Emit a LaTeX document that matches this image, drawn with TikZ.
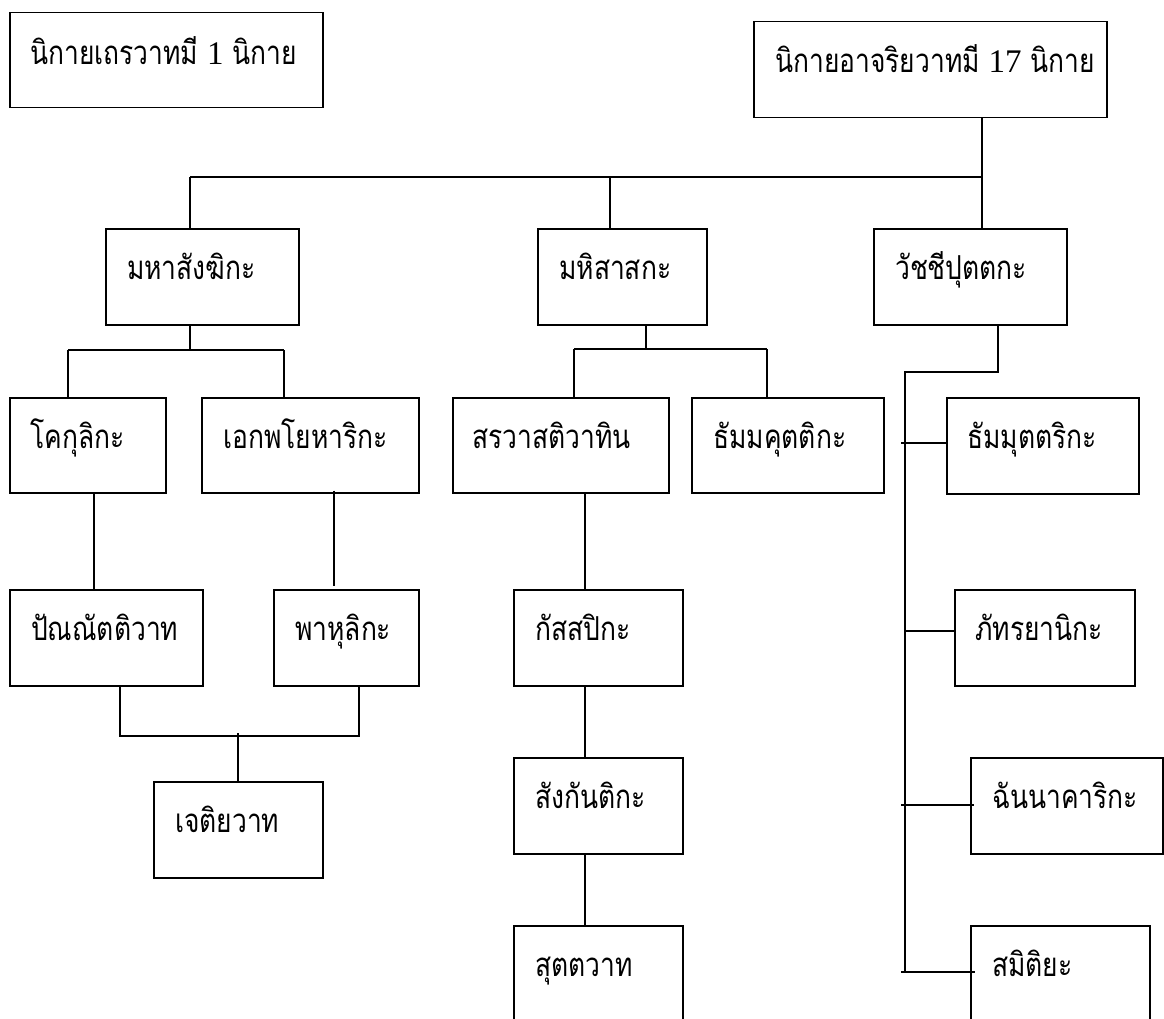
\documentclass[tikz,border=0pt]{standalone}
\usepackage{fontspec}
\newfontfamily\thaifont[Script=Thai,FakeStretch=0.8]{Loma}
\newfontfamily\numfont{Liberation Serif}
\tikzset{
  x=1pt, y=-1pt,
  box/.style={draw, line width=1.5pt, anchor=north west, inner sep=0pt},
  lbl/.style={anchor=base west, inner sep=0pt, font=\thaifont\fontsize{33}{33}\selectfont},
  conn/.style={line width=1.4pt}
}
\begin{document}
\begin{tikzpicture}
\useasboundingbox (0,0) rectangle (1164,1019);
\fill[white] (0,0) rectangle (1164,1019);
\begin{scope}
\clip (0,0) rectangle (1164,1019);
% boxes
\node[box, minimum width=313pt, minimum height=95pt] (thera) at (9,12) {};
\node[box, minimum width=353pt, minimum height=96pt] (acariya) at (753,21) {};
\node[box, minimum width=193pt, minimum height=96pt] (mahasang) at (105,228) {};
\node[box, minimum width=169pt, minimum height=96pt] (mahisa) at (537,228) {};
\node[box, minimum width=193pt, minimum height=96pt] (watchi) at (873,228) {};
\node[box, minimum width=156pt, minimum height=95pt] (kokul) at (9,397) {};
\node[box, minimum width=217pt, minimum height=95pt] (ekab) at (201,397) {};
\node[box, minimum width=216pt, minimum height=95pt] (sarva) at (452,397) {};
\node[box, minimum width=192pt, minimum height=95pt] (dhammag) at (691,397) {};
\node[box, minimum width=192pt, minimum height=96pt] (dhammut) at (946,397) {};
\node[box, minimum width=193pt, minimum height=96pt] (pannat) at (9,589) {};
\node[box, minimum width=145pt, minimum height=96pt] (bahul) at (273,589) {};
\node[box, minimum width=169pt, minimum height=96pt] (kassa) at (513,589) {};
\node[box, minimum width=180pt, minimum height=96pt] (bhadra) at (954,589) {};
\node[box, minimum width=169pt, minimum height=96pt] (sankan) at (513,757) {};
\node[box, minimum width=192pt, minimum height=96pt] (channa) at (970,757) {};
\node[box, minimum width=169pt, minimum height=96pt] (cetiya) at (153,781) {};
\node[box, minimum width=169pt, minimum height=110pt] (sutta) at (513,925) {};
\node[box, minimum width=179pt, minimum height=110pt] (sammit) at (970,925) {};
% labels
\path (thera.north west) ++(21,53) node[lbl] {นิกายเถรวาทมี {\numfont 1} นิกาย};
\path (acariya.north west) ++(22,52) node[lbl] {นิกายอาจริยวาทมี {\numfont 17} นิกาย};
\path (mahasang.north west) ++(22,51) node[lbl] {มหาสังฆิกะ};
\path (mahisa.north west) ++(22,51) node[lbl] {มหิสาสกะ};
\path (watchi.north west) ++(22,51) node[lbl] {วัชชีปุตตกะ};
\path (kokul.north west) ++(21,51) node[lbl] {โคกุลิกะ};
\path (ekab.north west) ++(22,51) node[lbl] {เอกพโยหาริกะ};
\path (sarva.north west) ++(20,51) node[lbl] {สรวาสติวาทิน};
\path (dhammag.north west) ++(22,51) node[lbl] {ธัมมคุตติกะ};
\path (dhammut.north west) ++(21,51) node[lbl] {ธัมมุตตริกะ};
\path (pannat.north west) ++(22,51) node[lbl] {ปัณณัตติวาท};
\path (bahul.north west) ++(22,51) node[lbl] {พาหุลิกะ};
\path (kassa.north west) ++(22,51) node[lbl] {กัสสปิกะ};
\path (bhadra.north west) ++(21,51) node[lbl] {ภัทรยานิกะ};
\path (sankan.north west) ++(22,51) node[lbl] {สังกันติกะ};
\path (channa.north west) ++(22,51) node[lbl] {ฉันนาคาริกะ};
\path (cetiya.north west) ++(22,51) node[lbl] {เจติยวาท};
\path (sutta.north west) ++(22,51) node[lbl] {สุตตวาท};
\path (sammit.north west) ++(22,51) node[lbl] {สมิติยะ};
% top level connectors
\coordinate (jT) at (982,177);
\coordinate (jL) at (190,177);
\coordinate (jM) at (610,177);
\draw[conn] (acariya.south -| jT) -- (watchi.north -| jT);
\draw[conn] (jL) -- (jT);
\draw[conn] (jL) -- (mahasang.north -| jL);
\draw[conn] (jM) -- (mahisa.north -| jM);
% under mahasang
\coordinate (a1) at (190,350);
\coordinate (a1L) at (68,350);
\coordinate (a1R) at (284,350);
\draw[conn] (mahasang.south -| a1) -- (a1);
\draw[conn] (a1L) -- (a1R);
\draw[conn] (a1L) -- (kokul.north -| a1L);
\draw[conn] (a1R) -- (ekab.north -| a1R);
% under mahisa
\coordinate (b1) at (646,349);
\coordinate (b1L) at (574,349);
\coordinate (b1R) at (767,349);
\draw[conn] (mahisa.south -| b1) -- (b1);
\draw[conn] (b1L) -- (b1R);
\draw[conn] (b1L) -- (sarva.north -| b1L);
\draw[conn] (b1R) -- (dhammag.north -| b1R);
% under watchi
\coordinate (c1) at (998,372);
\coordinate (c1L) at (905,372);
\coordinate (c1B) at (905,972);
\draw[conn] (watchi.south -| c1) -- (c1) -- (c1L) -- (c1B);
\draw[conn] (901,443) coordinate (t1) -- (dhammut.west |- t1);
\draw[conn] (905,631) coordinate (t2) -- (bhadra.west |- t2);
\draw[conn] (901,805) coordinate (t3) -- ([xshift=4pt]channa.west |- t3);
\draw[conn] (901,972) coordinate (t4) -- ([xshift=5pt]sammit.west |- t4);
% left branch
\coordinate (k1) at (94,492);
\draw[conn] (kokul.south -| k1) -- (pannat.north -| k1);
\coordinate (e1) at (334,492);
\draw[conn] ([yshift=3pt]ekab.south -| e1) -- ([yshift=3pt]bahul.north -| e1);
\coordinate (p1) at (120,736);
\coordinate (p2) at (359,736);
\coordinate (p3) at (238,736);
\draw[conn] (pannat.south -| p1) -- (p1) -- (p2) -- (bahul.south -| p2);
\draw[conn] ([yshift=3pt]p3) -- (cetiya.north -| p3);
% middle column
\coordinate (s1) at (585,492);
\draw[conn] (sarva.south -| s1) -- (kassa.north -| s1);
\draw[conn] (kassa.south -| s1) -- (sankan.north -| s1);
\draw[conn] (sankan.south -| s1) -- (sutta.north -| s1);
\end{scope}
\end{tikzpicture}
\end{document}
